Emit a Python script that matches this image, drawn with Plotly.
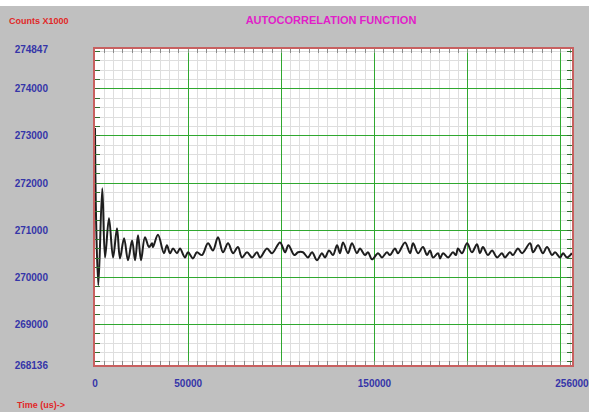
import plotly.graph_objects as go

# Time axis (us) and autocorrelation counts (x1000)
time_us = [0, 600, 1800, 3900, 5400, 7500, 9700, 11800, 13400, 15600, 17700, 19900,
           21500, 23100, 24700, 26800, 29000, 30600, 31100, 33800, 37000, 38600,
           40250, 41900, 44000, 45600, 48300, 49900, 52600, 54700, 57400, 60650,
           63300, 66000, 68700, 71400, 74100, 76700, 78900, 81600, 84300, 86900,
           88600, 92300, 95000, 99300, 102000, 103800, 107000, 109000, 111600,
           114300, 116500, 119100, 121800, 123400, 125600, 127700, 129900, 131500,
           133100, 135800, 137900, 140600, 142200, 144900, 146500, 148700, 151900,
           154000, 156700, 158300, 161000, 162600, 166400, 169100, 170700, 173400,
           176000, 178200, 179800, 181400, 184100, 185200, 186800, 189500, 192100,
           193700, 194800, 197000, 199700, 202300, 205000, 206600, 208200, 210900,
           213100, 215800, 218400, 220000, 222700, 224300, 227000, 229200, 233500,
           235100, 237800, 240400, 242600, 245300, 246900, 249600, 251200, 253300,
           256000]
counts = [273170, 271200, 269830, 271890, 270420, 271250, 270420, 271040, 270400,
          270830, 270360, 270780, 270360, 270890, 270360, 270850, 270640, 270720,
          270640, 270900, 270510, 270680, 270510, 270610, 270510, 270610, 270420,
          270530, 270400, 270530, 270470, 270720, 270570, 270850, 270530, 270720,
          270510, 270640, 270420, 270530, 270420, 270530, 270420, 270610, 270510,
          270740, 270530, 270680, 270470, 270530, 270530, 270420, 270530, 270360,
          270510, 270420, 270570, 270470, 270680, 270510, 270740, 270510, 270720,
          270510, 270610, 270470, 270530, 270380, 270510, 270420, 270530, 270470,
          270610, 270510, 270740, 270510, 270720, 270510, 270640, 270470, 270570,
          270420, 270510, 270400, 270510, 270420, 270530, 270470, 270610, 270510,
          270720, 270530, 270700, 270510, 270640, 270470, 270570, 270420, 270510,
          270420, 270530, 270470, 270610, 270510, 270720, 270530, 270680, 270510,
          270640, 270470, 270530, 270420, 270510, 270420, 270510]

x_tick_vals = [0, 50000, 100000, 150000, 200000, 250000, 256000]
x_tick_text = ["0", "50000", "", "150000", "", "", "256000"]
y_tick_vals = [268136, 269000, 270000, 271000, 272000, 273000, 274000, 274847]
y_tick_text = ["268136", "269000", "270000", "271000", "272000", "273000", "274000", "274847"]

# minor grid steps (axis scaffolding, not data)
x_minor_vals = [v for v in range(5000, 256000, 5000) if v % 50000 != 0]
y_minor_vals = [v for v in range(268200, 274847, 200) if v % 1000 != 0]

FONT = "Liberation Sans Narrow, Liberation Sans, Arial, sans-serif"
BLUE = "#3535a8"
RED = "#e02828"
GRID_GREEN = "#30a830"

fig = go.Figure()
fig.add_trace(go.Scatter(
    x=time_us, y=counts, mode="lines",
    line=dict(color="#1e1e1e", width=2, shape="spline", smoothing=1.0),
    hoverinfo="skip", showlegend=False,
))

fig.update_layout(
    width=589, height=412,
    margin=dict(l=95, r=17, t=49, b=47),
    paper_bgcolor="#c0c0c0",
    plot_bgcolor="#ffffff",
    showlegend=False,
    title=dict(text="<b>AUTOCORRELATION FUNCTION</b>", x=0.562, xanchor="center",
               y=0.95, yanchor="middle",
               font=dict(family=FONT, size=11, color="#e020c8")),
    xaxis=dict(
        range=[0, 256000], tickmode="array", tickvals=x_tick_vals, ticktext=x_tick_text,
        showgrid=True, gridcolor=GRID_GREEN, gridwidth=1, zeroline=False,
        showline=True, linecolor="#c86060", linewidth=2, mirror="ticks",
        ticks="inside", ticklen=4, tickcolor="#7a9a7a", automargin=False,
        ticklabeloverflow="allow",
        tickfont=dict(family=FONT, size=10, color=BLUE, weight="bold"),
        ticklabelstandoff=8,
        minor=dict(tickmode="array", tickvals=x_minor_vals, ticks="inside", ticklen=4,
                   tickcolor="#8a8a8a", showgrid=True, gridcolor="#dedede", gridwidth=1),
    ),
    yaxis=dict(
        range=[268136, 274847], tickmode="array", tickvals=y_tick_vals, ticktext=y_tick_text,
        showgrid=True, gridcolor=GRID_GREEN, gridwidth=1, zeroline=False,
        showline=True, linecolor="#c86060", linewidth=2, mirror="ticks",
        ticks="inside", ticklen=5, tickcolor="#2f702f", automargin=False,
        ticklabeloverflow="allow",
        tickfont=dict(family=FONT, size=10, color=BLUE, weight="bold"),
        ticklabelstandoff=43,
        minor=dict(tickmode="array", tickvals=y_minor_vals, ticks="inside", ticklen=5,
                   tickcolor="#2f702f", showgrid=True, gridcolor="#dedede", gridwidth=1),
    ),
    shapes=[dict(type="rect", xref="paper", yref="paper", x0=-1, x1=2,
                 y0=1 + 43 / 316, y1=1.2, fillcolor="#ffffff", line=dict(width=0),
                 layer="above")],
    annotations=[
        dict(text="<b>Counts X1000</b>", xref="paper", yref="paper",
             x=-88 / 477, y=1 + 28 / 316, xanchor="left", yanchor="middle", showarrow=False,
             font=dict(family=FONT, size=9, color=RED)),
        dict(text="<b>Time (us)-></b>", xref="paper", yref="paper",
             x=-80 / 477, y=-40 / 316, xanchor="left", yanchor="middle", showarrow=False,
             font=dict(family=FONT, size=9, color=RED)),
    ],
)

fig.write_html("out.html", config={"displayModeBar": False},
               post_script="document.body.style.margin='0px';document.body.style.overflow='hidden';")
